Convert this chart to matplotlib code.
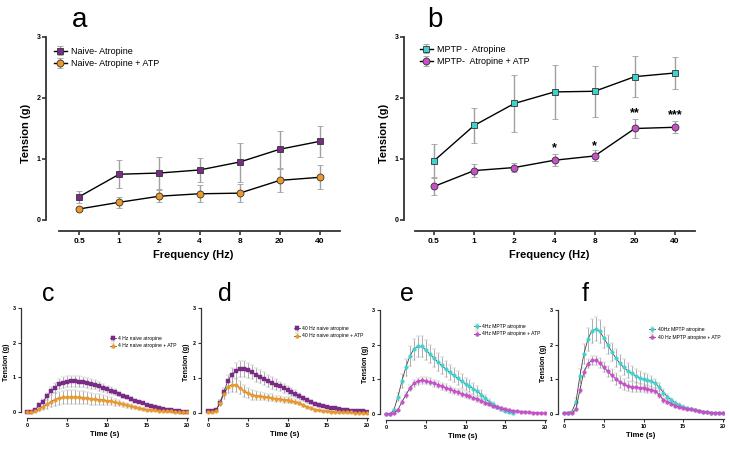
import matplotlib

matplotlib.use("Agg")
import matplotlib.pyplot as plt
import numpy as np

plt.rcParams["font.family"] = ["Liberation Sans", "DejaVu Sans"]

W, H = 730, 467

# ---- frequency response (panels a, b) ----
freqs = ["0.5", "1", "2", "4", "8", "20", "40"]

naive_atr = [0.38, 0.75, 0.77, 0.82, 0.95, 1.16, 1.29]
naive_atr_err = [0.10, 0.23, 0.26, 0.19, 0.32, 0.30, 0.25]
naive_atp = [0.18, 0.29, 0.39, 0.43, 0.44, 0.65, 0.70]
naive_atp_err = [0.04, 0.09, 0.10, 0.14, 0.15, 0.19, 0.20]

mptp_atr = [0.97, 1.55, 1.91, 2.10, 2.11, 2.35, 2.41]
mptp_atr_err = [0.27, 0.28, 0.46, 0.44, 0.42, 0.34, 0.26]
mptp_atp = [0.55, 0.81, 0.86, 0.98, 1.05, 1.50, 1.52]
mptp_atp_err = [0.14, 0.10, 0.08, 0.10, 0.09, 0.15, 0.10]

stars = {3: "*", 4: "*", 5: "**", 6: "***"}
star_y = {3: 1.17, 4: 1.21, 5: 1.75, 6: 1.72}

# ---- time courses (panels c-f) ----
t = np.arange(0, 20.5, 0.5)

c_atr = [0, 0, 0.05, 0.2, 0.3, 0.45, 0.6, 0.7, 0.8, 0.85, 0.87, 0.88, 0.88, 0.87, 0.86,
         0.84, 0.81, 0.78, 0.74, 0.7, 0.66, 0.62, 0.57, 0.52, 0.47, 0.42, 0.37, 0.33,
         0.29, 0.25, 0.21, 0.18, 0.15, 0.12, 0.09, 0.07, 0.05, 0.03, 0.02, 0.01, 0.01]
c_atr_err = [0, 0, 0.02, 0.05, 0.08, 0.1, 0.12, 0.14, 0.15, 0.16, 0.16, 0.16, 0.16, 0.16,
             0.15, 0.15, 0.14, 0.13, 0.12, 0.11, 0.1, 0.09, 0.08, 0.07, 0.06, 0.05, 0.05,
             0.04, 0.04, 0.03, 0.03, 0.02, 0.02, 0.02, 0.02, 0.01, 0.01, 0.01, 0.01, 0.01, 0.01]
c_atp = [0, 0, 0.02, 0.08, 0.15, 0.22, 0.3, 0.36, 0.4, 0.42, 0.43, 0.43, 0.43, 0.42, 0.41,
         0.4, 0.38, 0.37, 0.36, 0.35, 0.33, 0.31, 0.28, 0.25, 0.22, 0.19, 0.16, 0.13, 0.11,
         0.09, 0.07, 0.06, 0.05, 0.04, 0.03, 0.02, 0.02, 0.01, 0.01, 0.01, 0.01]
c_atp_err = [0, 0, 0.02, 0.05, 0.1, 0.13, 0.16, 0.18, 0.19, 0.2, 0.2, 0.2, 0.2, 0.2, 0.19,
             0.18, 0.17, 0.16, 0.15, 0.14, 0.13, 0.12, 0.1, 0.09, 0.08, 0.07, 0.06, 0.05,
             0.04, 0.03, 0.03, 0.02, 0.02, 0.02, 0.01, 0.01, 0.01, 0.01, 0.01, 0.01, 0.01]

d_atr = [0.05, 0.05, 0.08, 0.3, 0.6, 0.92, 1.1, 1.2, 1.25, 1.25, 1.22, 1.17, 1.1, 1.04,
         0.98, 0.92, 0.86, 0.81, 0.76, 0.71, 0.66, 0.6, 0.55, 0.48, 0.42, 0.36, 0.31, 0.27,
         0.23, 0.2, 0.17, 0.15, 0.13, 0.11, 0.1, 0.08, 0.07, 0.06, 0.05, 0.05, 0.04]
d_atr_err = [0, 0, 0.02, 0.08, 0.12, 0.17, 0.2, 0.22, 0.23, 0.23, 0.22, 0.21, 0.2, 0.19,
             0.18, 0.17, 0.16, 0.15, 0.14, 0.13, 0.12, 0.11, 0.1, 0.09, 0.08, 0.07, 0.06,
             0.05, 0.05, 0.04, 0.04, 0.03, 0.03, 0.03, 0.02, 0.02, 0.02, 0.02, 0.01, 0.01, 0.01]
d_atp = [0.02, 0.02, 0.07, 0.28, 0.55, 0.75, 0.8, 0.8, 0.72, 0.63, 0.57, 0.52, 0.5, 0.48,
         0.47, 0.45, 0.43, 0.41, 0.4, 0.38, 0.37, 0.35, 0.32, 0.28, 0.22, 0.17, 0.13, 0.1,
         0.08, 0.06, 0.05, 0.04, 0.03, 0.03, 0.02, 0.02, 0.02, 0.01, 0.01, 0.01, 0.01]
d_atp_err = [0, 0, 0.02, 0.08, 0.14, 0.18, 0.2, 0.2, 0.19, 0.17, 0.15, 0.14, 0.13, 0.12,
             0.11, 0.1, 0.1, 0.09, 0.09, 0.08, 0.08, 0.07, 0.07, 0.06, 0.05, 0.04, 0.03,
             0.03, 0.02, 0.02, 0.02, 0.01, 0.01, 0.01, 0.01, 0.01, 0.01, 0.01, 0.01, 0.01, 0.01]

# cyan trace in e stops at 16 s
e_atr = [0, 0, 0.12, 0.5, 0.95, 1.35, 1.67, 1.87, 1.95, 1.95, 1.85, 1.73, 1.62, 1.5, 1.4,
         1.3, 1.2, 1.12, 1.03, 0.95, 0.87, 0.8, 0.73, 0.66, 0.55, 0.45, 0.35, 0.28, 0.2,
         0.15, 0.1, 0.05, 0.03]
e_atr_err = [0, 0, 0.03, 0.12, 0.2, 0.25, 0.28, 0.3, 0.3, 0.3, 0.28, 0.27, 0.26, 0.25,
             0.24, 0.23, 0.22, 0.21, 0.2, 0.19, 0.18, 0.17, 0.16, 0.15, 0.13, 0.11, 0.09,
             0.07, 0.06, 0.05, 0.04, 0.03, 0.02]
e_atp = [0, 0, 0.03, 0.12, 0.35, 0.55, 0.75, 0.88, 0.95, 0.97, 0.96, 0.93, 0.89, 0.85,
         0.8, 0.76, 0.71, 0.67, 0.63, 0.59, 0.55, 0.51, 0.47, 0.43, 0.38, 0.33, 0.28, 0.23,
         0.19, 0.16, 0.13, 0.11, 0.09, 0.08, 0.07, 0.06, 0.05, 0.04, 0.03, 0.03, 0.02]
e_atp_err = [0, 0, 0.01, 0.03, 0.06, 0.08, 0.09, 0.1, 0.1, 0.1, 0.1, 0.1, 0.1, 0.1, 0.1,
             0.1, 0.1, 0.09, 0.09, 0.09, 0.08, 0.08, 0.07, 0.07, 0.06, 0.06, 0.05, 0.05,
             0.04, 0.04, 0.03, 0.03, 0.02, 0.02, 0.02, 0.02, 0.01, 0.01, 0.01, 0.01, 0.01]

f_atr = [0.02, 0.04, 0.07, 0.35, 1.1, 1.73, 2.15, 2.4, 2.45, 2.38, 2.2, 2.0, 1.8, 1.62,
         1.47, 1.35, 1.25, 1.17, 1.1, 1.05, 1.0, 0.97, 0.94, 0.88, 0.77, 0.62, 0.5, 0.4,
         0.32, 0.26, 0.21, 0.17, 0.14, 0.11, 0.09, 0.07, 0.05, 0.04, 0.03, 0.03, 0.02]
f_atr_err = [0, 0.01, 0.03, 0.1, 0.2, 0.28, 0.33, 0.35, 0.35, 0.33, 0.3, 0.28, 0.26, 0.25,
             0.24, 0.23, 0.22, 0.21, 0.2, 0.19, 0.18, 0.17, 0.16, 0.14, 0.12, 0.1, 0.08,
             0.07, 0.06, 0.05, 0.04, 0.04, 0.03, 0.03, 0.02, 0.02, 0.02, 0.01, 0.01, 0.01, 0.01]
f_atp = [0.02, 0.02, 0.03, 0.13, 0.7, 1.2, 1.45, 1.55, 1.55, 1.47, 1.35, 1.23, 1.12, 1.02,
         0.93, 0.86, 0.81, 0.78, 0.77, 0.76, 0.75, 0.73, 0.7, 0.66, 0.55, 0.4, 0.36, 0.3,
         0.24, 0.2, 0.17, 0.15, 0.13, 0.11, 0.09, 0.07, 0.05, 0.04, 0.03, 0.03, 0.02]
f_atp_err = [0, 0, 0.01, 0.05, 0.1, 0.12, 0.13, 0.13, 0.13, 0.14, 0.15, 0.16, 0.17, 0.17,
             0.17, 0.16, 0.15, 0.15, 0.14, 0.13, 0.12, 0.11, 0.1, 0.09, 0.08, 0.07, 0.06,
             0.05, 0.04, 0.04, 0.03, 0.03, 0.02, 0.02, 0.02, 0.02, 0.01, 0.01, 0.01, 0.01, 0.01]

PURPLE = "#7a2b88"
ORANGE = "#eb9a2a"
CYAN = "#3fd3d0"
MAGENTA = "#c94fcb"
ERR = "#a0a0a0"
SPINE = "#333333"


def make_axes(fig, left, right, x0px, x1px, x0, x1, y0px, y3px, bottom, top, xspine_px):
    """Place an axes from pixel measurements of the reference."""
    sx = (x1px - x0px) / (x1 - x0)
    sy = (y0px - y3px) / 3.0
    ax = fig.add_axes([left / W, 1 - bottom / H, (right - left) / W, (bottom - top) / H])
    ax.set_xlim(x0 - (x0px - left) / sx, x1 + (right - x1px) / sx)
    ax.set_ylim(-(bottom - y0px) / sy, (y0px - top) / sy)
    ax.spines[["top", "right"]].set_visible(False)
    ax.spines["left"].set_bounds(0, 3)
    ax.spines["bottom"].set_bounds(x0 - (x0px - xspine_px) / sx, x1 + (right - x1px) / sx)
    ax.set_yticks([0, 1, 2, 3])
    ax.patch.set_alpha(0)
    return ax


fig = plt.figure(figsize=(W / 100, H / 100), dpi=100)

# ---- panels a and b ----
top_panels = [
    ("a", 46, 340, 79, 320, 59, 80,
     [("Naive- Atropine", naive_atr, naive_atr_err, PURPLE, "s"),
      ("Naive- Atropine + ATP", naive_atp, naive_atp_err, ORANGE, "o")], (54, 47)),
    ("b", 404, 695, 434, 675, 415, 435,
     [("MPTP -  Atropine", mptp_atr, mptp_atr_err, CYAN, "s"),
      ("MPTP-  Atropine + ATP", mptp_atp, mptp_atp_err, MAGENTA, "o")], (420, 45)),
]
xpos = np.arange(len(freqs))
for letter, left, right, x0px, x1px, xsp, letter_x, series, leg_xy in top_panels:
    ax = make_axes(fig, left, right, x0px, x1px, 0, 6, 220, 37, 231, 35, xsp)
    for label, vals, err, col, mk in series:
        ax.errorbar(xpos, vals, yerr=err, color="black", lw=1.0, ecolor=ERR,
                    elinewidth=1.0, capsize=2.5, capthick=1.0, marker=mk, ms=5,
                    mfc=col, mec="#333333", mew=0.6, label=label, zorder=3)
    ax.set_xticks(xpos)
    ax.set_xticklabels(freqs, fontsize=6, fontweight="bold")
    ax.tick_params(axis="y", labelsize=5, length=3, width=1.2, pad=1, color=SPINE)
    ax.tick_params(axis="x", length=3, width=1.2, pad=2, color=SPINE)
    for lab in ax.get_yticklabels():
        lab.set_fontweight("bold")
    for s in ("left", "bottom"):
        ax.spines[s].set_linewidth(1.3)
        ax.spines[s].set_color(SPINE)
    ax.set_xlabel("Frequency (Hz)", fontsize=8, fontweight="bold", labelpad=4)
    ax.set_ylabel("Tension (g)", fontsize=8, fontweight="bold", labelpad=4)
    ax.legend(loc="upper left", bbox_to_anchor=(leg_xy[0] / W, 1 - leg_xy[1] / H),
              bbox_transform=fig.transFigure, frameon=False, fontsize=6.5,
              handlelength=1.4, handletextpad=0.5, borderpad=0, borderaxespad=0,
              labelspacing=0.35)
    fig.text(letter_x / W, 1 - 20 / H, letter, fontsize=20, ha="center", va="center")
    if letter == "b":
        for i, s in stars.items():
            ax.text(i, star_y[i], s, fontsize=9, fontweight="bold", ha="center", va="center")

# ---- panels c-f ----
bottom_panels = [
    ("c", 21, 188, 27, 187, 412, 308, 418, 48,
     [("4 Hz naive atropine", c_atr, c_atr_err, PURPLE, "s"),
      ("4 Hz naive atropine + ATP", c_atp, c_atp_err, ORANGE, "o")], (110, 336)),
    ("d", 201, 368, 208, 367, 413, 308, 418, 225,
     [("40 Hz naive atropine", d_atr, d_atr_err, PURPLE, "s"),
      ("40 Hz naive atropine + ATP", d_atp, d_atp_err, ORANGE, "o")], (294, 326)),
    ("e", 380, 546, 386, 545, 414, 310, 420, 407,
     [("4Hz MPTP atropine", e_atr, e_atr_err, CYAN, "o"),
      ("4Hz MPTP atropine + ATP", e_atp, e_atp_err, MAGENTA, "o")], (474, 324)),
    ("f", 558, 724, 564, 723, 414, 310, 419, 585,
     [("40Hz MPTP atropine", f_atr, f_atr_err, CYAN, "o"),
      ("40 Hz MPTP atropine + ATP", f_atp, f_atp_err, MAGENTA, "o")], (649, 327)),
]
for letter, left, right, x0px, x1px, y0px, y3px, bottom, letter_x, series, leg_xy in bottom_panels:
    ax = make_axes(fig, left, right, x0px, x1px, 0, 20, y0px, y3px, bottom, y3px - 2, x0px)
    for label, vals, err, col, mk in series:
        tt = t[:len(vals)]
        ax.errorbar(tt, vals, yerr=err, color="#444444", lw=0.6, ecolor=ERR,
                    elinewidth=0.6, capsize=1.2, capthick=0.6, marker=mk, ms=2.6,
                    mfc=col, mec=col, mew=0.3, label=label, zorder=3)
    ax.set_xticks([0, 5, 10, 15, 20])
    ax.tick_params(labelsize=4, length=2, width=0.8, pad=1.5, color=SPINE)
    for lab in ax.get_xticklabels() + ax.get_yticklabels():
        lab.set_fontweight("bold")
    for s in ("left", "bottom"):
        ax.spines[s].set_linewidth(0.9)
        ax.spines[s].set_color(SPINE)
    ax.set_xlabel("Time (s)", fontsize=5.5, fontweight="bold", labelpad=2)
    ax.set_ylabel("Tension (g)", fontsize=5, fontweight="bold", labelpad=2)
    ax.legend(loc="upper left", bbox_to_anchor=(leg_xy[0] / W, 1 - leg_xy[1] / H),
              bbox_transform=fig.transFigure, frameon=False, fontsize=3.6,
              handlelength=1.2, handletextpad=0.5, borderpad=0, borderaxespad=0,
              labelspacing=0.5)
    fig.text(letter_x / W, 1 - 294 / H, letter, fontsize=18, ha="center", va="center")

fig.savefig("out.png", dpi=100)
